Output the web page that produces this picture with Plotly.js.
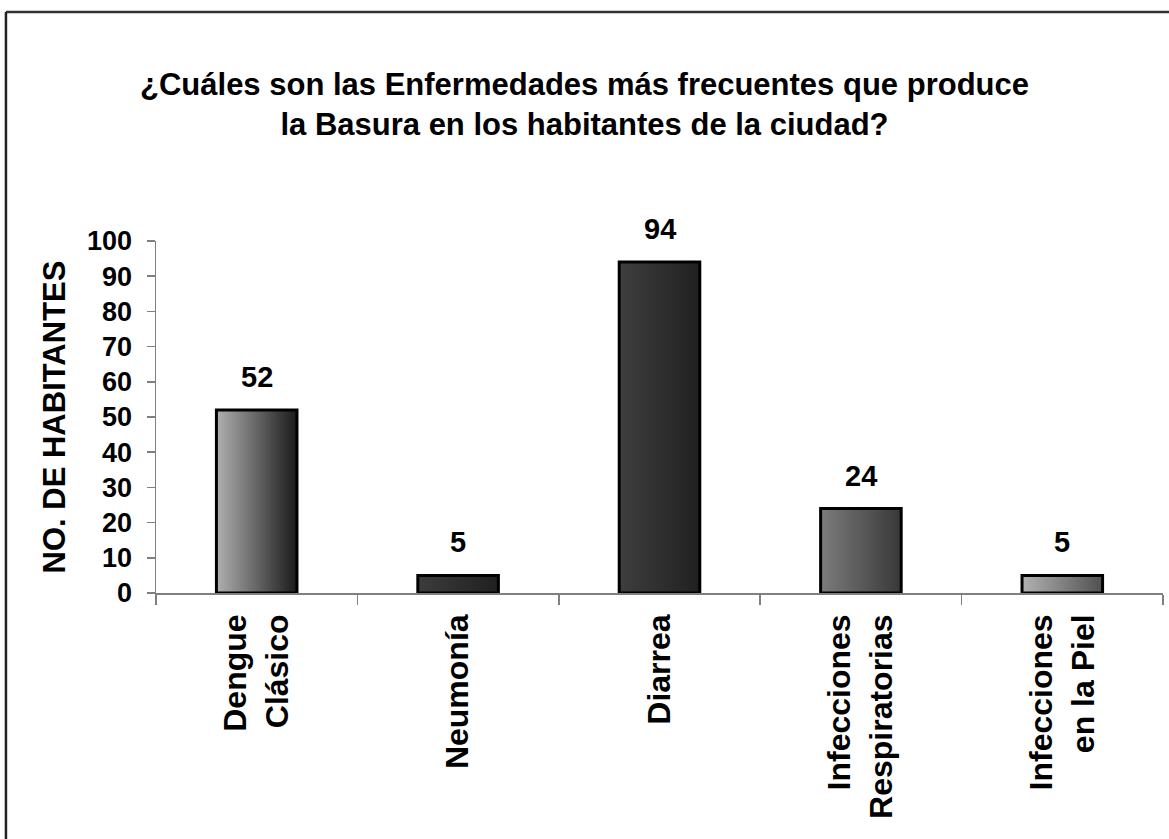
<!DOCTYPE html>
<html>
<head>
<meta charset="utf-8">
<script src="https://cdn.plot.ly/plotly-3.0.1.min.js"></script>
<style>html,body{margin:0;padding:0;background:#fff;}#chart{width:1169px;height:839px;}</style>
</head>
<body>
<div id="chart"></div>
<script>
// Data
const categories = ["Dengue<br>Clásico", "Neumonía", "Diarrea", "Infecciones<br>Respiratorias", "Infecciones<br>en la Piel"];
const values = [52, 5, 94, 24, 5];
const yTicks = [0, 10, 20, 30, 40, 50, 60, 70, 80, 90, 100];
const chartTitle = "¿Cuáles son las Enfermedades más frecuentes que produce<br>la Basura en los habitantes de la ciudad?";
const yTitle = "NO. DE HABITANTES";

// Styles
const gradients = [
  ["#b0b0b0", "#1a1a1a"],
  ["#3c3c3c", "#202020"],
  ["#3e3e3e", "#202020"],
  ["#7c7c7c", "#383838"],
  ["#b2b2b2", "#505050"]
];
const halfWidth = 0.2;
const FONT = "Liberation Sans, Arial, sans-serif";

const traces = [];
values.forEach((v, i) => {
  traces.push({
    type: "scatter",
    mode: "lines",
    x: [i - halfWidth, i + halfWidth, i + halfWidth, i - halfWidth, i - halfWidth],
    y: [0, 0, v, v, 0],
    fill: "toself",
    fillgradient: { type: "horizontal", colorscale: [[0, gradients[i][0]], [1, gradients[i][1]]] },
    line: { color: "#000", width: 3 },
    hoverinfo: "skip",
    showlegend: false,
    xaxis: "x", yaxis: "y"
  });
});
// invisible trace to carry category labels axis
traces.push({
  type: "scatter", mode: "markers",
  x: categories.map((c, i) => i), y: values,
  marker: { opacity: 0 }, hoverinfo: "skip", showlegend: false,
  xaxis: "x2", yaxis: "y"
});

const annotations = values.map((v, i) => ({
  x: i, y: v, xref: "x", yref: "y",
  text: String(v), showarrow: false,
  yanchor: "bottom", yshift: 15,
  font: { family: FONT, size: 29, color: "#000", weight: "bold" }
}));

const layout = {
  width: 1169, height: 839,
  paper_bgcolor: "#fff", plot_bgcolor: "#fff",
  margin: { l: 156, r: 6, t: 241, b: 246 },
  font: { family: FONT, color: "#000" },
  title: {
    text: "<b>" + chartTitle + "</b>",
    x: 0.5, xanchor: "center", xref: "container",
    y: 1 - 95 / 839, yanchor: "middle", yref: "container",
    font: { family: FONT, size: 31, color: "#000" }
  },
  xaxis: {
    range: [-0.5, 4.5], fixedrange: true,
    tickvals: [-0.5, 0.5, 1.5, 2.5, 3.5, 4.5],
    ticktext: ["", "", "", "", "", ""],
    ticks: "outside", ticklen: 10, tickwidth: 1.5, tickcolor: "#808080",
    showline: true, linecolor: "#808080", linewidth: 1.5,
    showgrid: false, zeroline: false
  },
  xaxis2: {
    overlaying: "x", side: "bottom", range: [-0.5, 4.5], fixedrange: true,
    tickvals: [0, 1, 2, 3, 4], ticktext: categories.map(c => "<b>" + c + "</b>"),
    ticks: "", tickangle: -90, ticklabelstandoff: 14,
    showline: false, showgrid: false, zeroline: false,
    tickfont: { family: FONT, size: 32, color: "#000" }
  },
  yaxis: {
    range: [0, 100], fixedrange: true,
    tickvals: yTicks, ticktext: yTicks.map(t => "<b>" + t + "</b>"),
    ticks: "outside", ticklen: 8, tickwidth: 1.5, tickcolor: "#808080",
    ticklabelstandoff: 9,
    showline: true, linecolor: "#808080", linewidth: 1.5,
    showgrid: false, zeroline: false,
    tickfont: { family: FONT, size: 27, color: "#000" },
    title: { text: "<b>" + yTitle + "</b>", standoff: 12, font: { family: FONT, size: 31, color: "#000" } }
  },
  annotations: annotations,
  shapes: [
    { type: "line", xref: "paper", yref: "paper", x0: -0.149, x1: 1.01, y0: 1.6506, y1: 1.6506, line: { color: "#333", width: 2.5 } },
    { type: "line", xref: "paper", yref: "paper", x0: -0.149, x1: -0.149, y0: 1.6506, y1: -0.75, line: { color: "#222", width: 2.5 } }
  ]
};

Plotly.newPlot("chart", traces, layout, { displayModeBar: false, staticPlot: true });
</script>
</body>
</html>
